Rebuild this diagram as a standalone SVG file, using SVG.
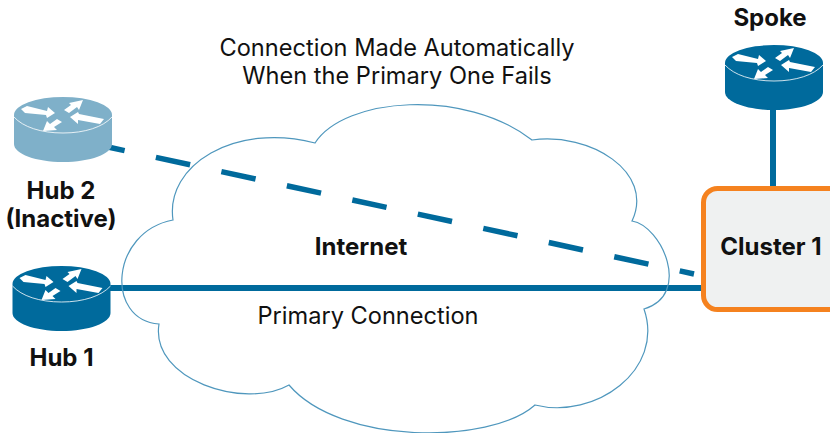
<svg xmlns="http://www.w3.org/2000/svg" width="830" height="433" viewBox="0 0 830 433">
<style>
text{font-family:Inter,"Liberation Sans",Arial,sans-serif;fill:#111;text-anchor:middle}
.b{font-weight:bold;font-size:24px}
.r{font-size:23.6px}
.link{fill:none;stroke:#006a9c;stroke-width:6}
.cloud{fill:none;stroke:#4f97bd;stroke-width:1.2;stroke-linejoin:miter}
.rim{fill:none;stroke:#fff;stroke-width:1;opacity:.8}
</style>
<defs>
<g id="arrows" fill="#fff">
<polygon points="-42,-6 -36,-9 -16,-4 -15,-8 -8,-2 -16,3 -17,0 -38,-2"/>
<polygon points="20,-15 6,-12 8,-10 1,-5 6,-2 14,-8 16,-5"/>
<polygon points="7,2 15,-3 16,-1 41,4 37,9 15,5 15,9"/>
<polygon points="-20,16 -16,6 -13,9 -6,4 -1,7 -9,12 -6,15"/>
</g>
<path id="body" d="M-49,0A49,18 0 0 1 49,0V29C49,39 27,47 0,47S-49,39 -49,29Z"/>
<path id="rimline" class="rim" d="M-49,2C-40,12 -22,18 0,18S40,12 49,2"/>
</defs>
<g id="connectors">
<path class="link" d="M108,288H703"/>
<path class="link" d="M773,108V188"/>
<path class="link" style="stroke-width:5.5" stroke-dasharray="35 32" stroke-dashoffset="18" d="M108,147L694,274"/>
</g>
<g id="internet">
<path class="cloud" d="M173,220C165,165 235,122 315,143C345,97 465,88 532,140C590,132 655,172 632,221C662,226 692,295 644,309C665,370 595,420 535,405C490,445 340,445 289,385C245,410 150,380 159,324C105,320 110,232 173,220Z"/>
<text class="b" x="361" y="255">Internet</text>
</g>
<g id="hub2" transform="translate(63,115)">
<use href="#body" fill="#7fb0c9"/><use href="#rimline"/><use href="#arrows"/>
<text class="b" x="-2" y="84">Hub 2</text>
<text class="b" x="-2" y="112">(Inactive)</text>
</g>
<g id="hub1" transform="translate(61.500,284)">
<use href="#body" fill="#006a9c"/><use href="#rimline"/><use href="#arrows"/>
<text class="b" x="0" y="82">Hub 1</text>
</g>
<g id="spoke" transform="translate(774,63)">
<use href="#body" fill="#006a9c"/><use href="#rimline"/><use href="#arrows"/>
<text class="b" x="-4" y="-37">Spoke</text>
</g>
<g id="cluster1">
<rect x="703.500" y="188.500" width="140" height="121" rx="14" fill="#eff1f1" stroke="#f5821f" stroke-width="5"/>
<text class="b" x="771" y="255">Cluster 1</text>
</g>
<g id="labels">
<text class="r" x="397" y="56">Connection Made Automatically</text>
<text class="r" x="397" y="84">When the Primary One Fails</text>
<text class="r" x="368" y="324">Primary Connection</text>
</g>
</svg>
